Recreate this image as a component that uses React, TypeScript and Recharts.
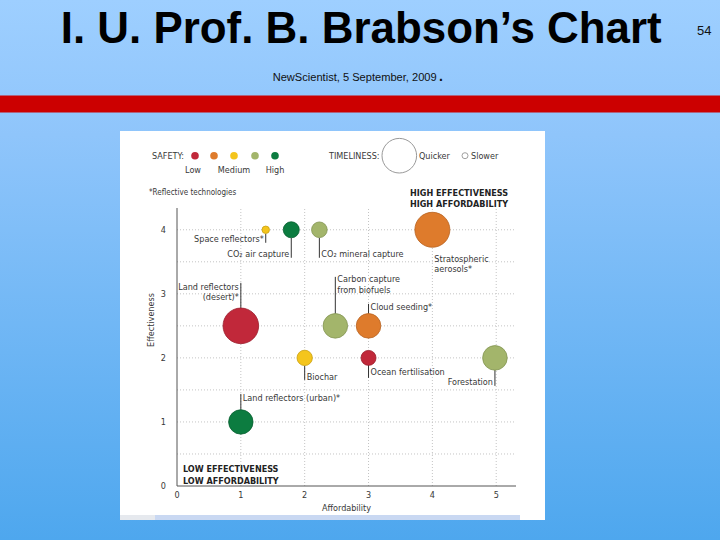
import React from "react";
import { ScatterChart, Scatter, XAxis, YAxis, ZAxis, ReferenceLine } from "recharts";

// --- data ---
const names = [
  "Space reflectors",
  "CO2 air capture",
  "CO2 mineral capture",
  "Stratospheric aerosols",
  "Land reflectors (desert)",
  "Carbon capture from biofuels",
  "Cloud seeding",
  "Biochar",
  "Ocean fertilisation",
  "Forestation",
  "Land reflectors (urban)",
];
const affordability = [1.39, 1.79, 2.23, 4.0, 1.0, 2.48, 3.0, 2.0, 3.0, 4.98, 1.0];
const effectiveness = [4, 4, 4, 4, 2.5, 2.5, 2.5, 2, 2, 2, 1];
// timeliness -> bubble area (bigger = quicker)
const timeliness = [14, 64, 61, 306, 317, 151, 151, 59, 56, 151, 149];
// safety 1 = low ... 5 = high
const safety = [3, 5, 4, 2, 1, 4, 2, 3, 1, 4, 5];

const xTicks = [0, 1, 2, 3, 4, 5];
const yTicks = [0, 1, 2, 3, 4];
const gridX = [1, 2, 3, 4, 5];
const gridY = [0.5, 1, 1.5, 2, 2.5, 3, 3.5, 4];

const SAFETY_COLORS = ["#C1283A", "#DE7B2C", "#F4C51C", "#A3B56B", "#0C7C40"];
const SAFETY_STROKE = ["#9a1d2c", "#b8621f", "#c9a010", "#839452", "#075f30"];

const FONT = "'Liberation Sans Narrow', 'DejaVu Sans Condensed', 'Roboto Condensed', 'Liberation Sans', sans-serif";
const TEXT = "#383838";

// label layout per bubble (offsets from bubble centre)
const labelLayout: Record<string, { anchor: "start" | "end"; dx: number; lines: [string, number][]; leader?: [number, number] }> = {
  "Space reflectors": { anchor: "end", dx: -2, lines: [["Space reflectors*", 12]], leader: [4, 13] },
  "CO2 air capture": { anchor: "end", dx: -2, lines: [["CO₂ air capture", 27]], leader: [8, 28] },
  "CO2 mineral capture": { anchor: "start", dx: 2, lines: [["CO₂ mineral capture", 27]], leader: [8, 28] },
  "Stratospheric aerosols": { anchor: "start", dx: 2, lines: [["Stratospheric", 32], ["aerosols*", 42]] },
  "Land reflectors (desert)": { anchor: "end", dx: -2, lines: [["Land reflectors", -36], ["(desert)*", -26]], leader: [-43, -17] },
  "Carbon capture from biofuels": { anchor: "start", dx: 2, lines: [["Carbon capture", -44], ["from biofuels", -33]], leader: [-49, -12] },
  "Cloud seeding": { anchor: "start", dx: 2, lines: [["Cloud seeding*", -16]], leader: [-22, -12] },
  "Biochar": { anchor: "start", dx: 2, lines: [["Biochar", 22]], leader: [8, 22] },
  "Ocean fertilisation": { anchor: "start", dx: 2, lines: [["Ocean fertilisation", 17]], leader: [7, 20] },
  "Forestation": { anchor: "end", dx: -2, lines: [["Forestation", 27]], leader: [12, 28] },
  "Land reflectors (urban)": { anchor: "start", dx: 2, lines: [["Land reflectors (urban)*", -21]], leader: [-28, -12] },
};

const points = names.map((name, i) => ({
  name,
  x: affordability[i],
  y: effectiveness[i],
  t: timeliness[i],
  s: safety[i],
}));

function Bubble(props: any) {
  const { cx, cy, width, payload } = props;
  const r = width / 2;
  const lay = labelLayout[payload.name];
  const c = payload.s - 1;
  return (
    <g>
      {lay && lay.leader && (
        <line x1={cx} x2={cx} y1={cy + lay.leader[0]} y2={cy + lay.leader[1]} stroke="#333" strokeWidth={1} />
      )}
      <circle cx={cx} cy={cy} r={r} fill={SAFETY_COLORS[c]} stroke={SAFETY_STROKE[c]} strokeWidth={0.8} />
      {lay &&
        lay.lines.map(([txt, dy]) => (
          <text
            key={txt}
            x={cx + lay.dx}
            y={cy + dy}
            textAnchor={lay.anchor}
            fontSize={9}
            fontFamily={FONT}
            fill={TEXT}
          >
            {txt}
          </text>
        ))}
    </g>
  );
}

function Overlay() {
  const dots = [195, 214, 234, 255, 275];
  return (
    <svg width={425} height={389} style={{ position: "absolute", left: 0, top: 0, pointerEvents: "none" }}>
      <g transform="translate(-120,-131)" fontFamily={FONT} fill={TEXT}>
        <text x={152} y={159} fontSize={9}>SAFETY:</text>
        {dots.map((x, i) => (
          <circle key={x} cx={x} cy={155.7} r={3.8} fill={SAFETY_COLORS[i]} />
        ))}
        <text x={193} y={173} fontSize={9} textAnchor="middle">Low</text>
        <text x={234} y={173} fontSize={9} textAnchor="middle">Medium</text>
        <text x={275} y={173} fontSize={9} textAnchor="middle">High</text>
        <text x={329} y={159} fontSize={9}>TIMELINESS:</text>
        <circle cx={399.3} cy={155.7} r={17.3} fill="none" stroke="#999" strokeWidth={1} />
        <text x={419} y={159} fontSize={9}>Quicker</text>
        <circle cx={465} cy={155.7} r={3} fill="none" stroke="#888" strokeWidth={0.8} />
        <text x={471} y={159} fontSize={9}>Slower</text>
        <text x={149} y={194.5} fontSize={8}>*Reflective technologies</text>
        <text x={459} y={195.5} fontSize={9} fontWeight="bold" textAnchor="middle" fill="#222">HIGH EFFECTIVENESS</text>
        <text x={459} y={206.5} fontSize={9} fontWeight="bold" textAnchor="middle" fill="#222">HIGH AFFORDABILITY</text>
        <text x={183} y={471.5} fontSize={9} fontWeight="bold" fill="#222">LOW EFFECTIVENESS</text>
        <text x={183} y={483.5} fontSize={9} fontWeight="bold" fill="#222">LOW AFFORDABILITY</text>
        <text x={153.5} y={320} fontSize={9} textAnchor="middle" transform="rotate(-90 153.5 320)">Effectiveness</text>
      </g>
    </svg>
  );
}

export default function App() {
  return (
    <div
      style={{
        position: "absolute",
        left: 0,
        top: 0,
        width: 720,
        height: 540,
        overflow: "hidden",
        background: "linear-gradient(to bottom, #9ecfff 0%, #8fc5fb 25%, #4ea7ee 100%)",
      }}
    >
      <svg width={720} height={120} style={{ position: "absolute", left: 0, top: 0 }}>
        <text x={60.7} y={43} fontSize={44} fontWeight="bold" fontFamily="'Liberation Sans', Arial, sans-serif" textLength={601} lengthAdjust="spacingAndGlyphs" fill="#000">
          I. U. Prof. B. Brabson’s Chart
        </text>
        <text x={697} y={35} fontSize={13} fontFamily="'Liberation Sans', Arial, sans-serif" fill="#111">54</text>
        <text x={272.7} y={81} fontSize={10} fontFamily="'Liberation Sans', Arial, sans-serif" textLength={164} lengthAdjust="spacingAndGlyphs" fill="#111">
          NewScientist, 5 September, 2009
        </text>
        <text x={439} y={81} fontSize={14} fontWeight="bold" fontFamily="'Liberation Sans', Arial, sans-serif" fill="#111">.</text>
        <rect x={0} y={95.5} width={720} height={17} fill="#CC0000" />
      </svg>

      <div style={{ position: "absolute", left: 120, top: 131, width: 425, height: 389, background: "#fff" }}>
        <ScatterChart width={425} height={389} margin={{ top: 77, right: 29, bottom: 0, left: 0 }}>
          {gridY.map((v) => (
            <ReferenceLine key={"gy" + v} y={v} stroke="#c4c4c4" strokeDasharray="1 2" />
          ))}
          {gridX.map((v) => (
            <ReferenceLine key={"gx" + v} x={v} stroke="#c4c4c4" strokeDasharray="1 2" />
          ))}
          <XAxis
            type="number"
            dataKey="x"
            domain={[0, 5.31]}
            ticks={xTicks}
            allowDataOverflow
            height={34}
            tickLine={false}
            tickSize={4}
            axisLine={{ stroke: "#555" }}
            tick={{ fontSize: 9, fill: TEXT, fontFamily: FONT }}
            label={{ value: "Affordability", position: "insideBottom", offset: 9, fontSize: 9, fill: TEXT, fontFamily: FONT }}
          />
          <YAxis
            type="number"
            dataKey="y"
            domain={[0, 4.34]}
            ticks={yTicks}
            allowDataOverflow
            width={57}
            tickLine={false}
            tickSize={9}
            axisLine={{ stroke: "#555" }}
            tick={{ fontSize: 9, fill: TEXT, fontFamily: FONT }}
          />
          <ZAxis type="number" dataKey="t" domain={[0, 400]} range={[0, 400 * Math.PI]} />
          <Scatter data={points} shape={<Bubble />} isAnimationActive={false} />
        </ScatterChart>
        <Overlay />
        <div style={{ position: "absolute", left: 35, top: 384, width: 365, height: 5, background: "#c9d8f2" }} />
        <div style={{ position: "absolute", left: 0, top: 384, width: 35, height: 5, background: "#e6e9ee" }} />
      </div>
    </div>
  );
}
